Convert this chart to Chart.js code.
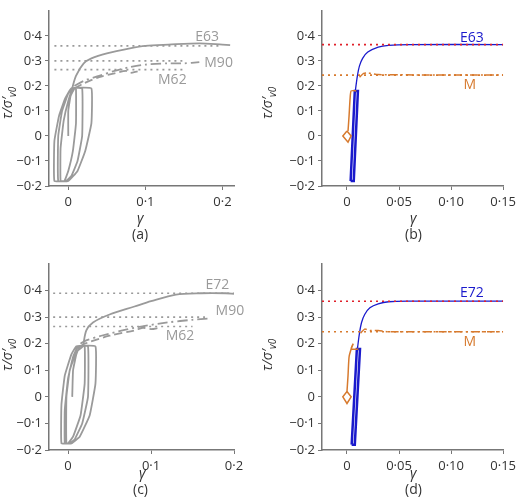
<!DOCTYPE html>
<html><head><meta charset="utf-8">
<script src="https://cdn.jsdelivr.net/npm/chart.js@4"></script>
<style>
body{margin:0;width:520px;height:502px;position:relative;background:#fff;font-family:"Open Sans",sans-serif;overflow:hidden}
canvas{position:absolute}
.t{position:absolute;color:#333;font-size:14px;white-space:nowrap}
.yl{transform:rotate(-90deg);transform-origin:center;font-style:italic}
</style></head><body>
<canvas id="ca" style="left:0;top:0" width="260" height="250"></canvas>
<canvas id="cb" style="left:260px;top:0" width="260" height="250"></canvas>
<canvas id="cc" style="left:0;top:252px" width="260" height="250"></canvas>
<canvas id="cd" style="left:260px;top:252px" width="260" height="250"></canvas>
<div class="t yl" style="left:-8px;top:92px">τ/σ′<sub style="font-size:10px">v0</sub></div>
<div class="t yl" style="left:252px;top:92px">τ/σ′<sub style="font-size:10px">v0</sub></div>
<div class="t yl" style="left:-8px;top:344px">τ/σ′<sub style="font-size:10px">v0</sub></div>
<div class="t yl" style="left:252px;top:344px">τ/σ′<sub style="font-size:10px">v0</sub></div>
<div class="t" style="left:137px;top:208px;font-style:italic">γ</div>
<div class="t" style="left:132px;top:224px">(a)</div>
<div class="t" style="left:410px;top:208px;font-style:italic">γ</div>
<div class="t" style="left:405px;top:224px">(b)</div>
<div class="t" style="left:139px;top:463px;font-style:italic">γ</div>
<div class="t" style="left:133px;top:479px">(c)</div>
<div class="t" style="left:410px;top:463px;font-style:italic">γ</div>
<div class="t" style="left:405px;top:479px">(d)</div>
<script>
// ---- data ----
const yTicks=[-0.2,-0.1,0,0.1,0.2,0.3,0.4];
const xTicksAC=[0,0.1,0.2];
const xTicksBD=[0,0.05,0.10,0.15];
const loopsA=[[0,0],[0,0.1],[0.003,0.16],[0.008,0.19],[0.01,0.19],[0.01,0.05],[0.006,-0.06],[0.0,-0.14],[-0.005,-0.18],[-0.01,-0.18],[-0.01,-0.05],[-0.006,0.06],[0.0,0.14],[0.006,0.19],[0.018,0.19],[0.018,0.0],[0.012,-0.1],[0.004,-0.16],[-0.003,-0.18],[-0.018,-0.18],[-0.018,-0.02],[-0.012,0.08],[-0.004,0.15],[0.004,0.19],[0.03,0.19],[0.03,0.05],[0.022,-0.06],[0.012,-0.14],[0.0,-0.18],[-0.013,-0.18],[-0.013,0.0],[-0.008,0.1],[0.0,0.17],[0.005,0.19]];
const e63=[[0.005,0.19],[0.01,0.24],[0.02,0.29],[0.03,0.31],[0.05,0.33],[0.08,0.35],[0.1,0.36],[0.13,0.365],[0.17,0.37],[0.2,0.365],[0.21,0.363]];
const m90a=[[0.008,0.2],[0.02,0.22],[0.04,0.24],[0.06,0.26],[0.08,0.275],[0.1,0.285],[0.13,0.29],[0.15,0.29],[0.17,0.295]];
const m62a=[[0.008,0.19],[0.02,0.21],[0.04,0.235],[0.06,0.25],[0.075,0.26],[0.08,0.252],[0.09,0.258]];
const loopsC=[[0.005,0],[0.006,0.1],[0.01,0.16],[0.014,0.19],[0.02,0.19],[0.02,0.05],[0.015,-0.07],[0.006,-0.15],[0.0,-0.175],[-0.004,-0.175],[-0.004,-0.05],[0.0,0.07],[0.006,0.15],[0.012,0.19],[0.024,0.19],[0.024,0.0],[0.017,-0.1],[0.008,-0.16],[0.002,-0.175],[-0.008,-0.175],[-0.008,-0.03],[-0.004,0.08],[0.004,0.16],[0.01,0.19],[0.033,0.19],[0.033,0.05],[0.026,-0.07],[0.014,-0.15],[0.004,-0.175],[-0.002,-0.175],[-0.002,0.0],[0.002,0.1],[0.01,0.17],[0.018,0.19]];
const e72=[[0.018,0.19],[0.022,0.25],[0.03,0.28],[0.05,0.31],[0.08,0.34],[0.1,0.36],[0.13,0.385],[0.16,0.39],[0.19,0.39],[0.2,0.388]];
const m90c=[[0.015,0.2],[0.02,0.21],[0.04,0.23],[0.08,0.26],[0.12,0.28],[0.15,0.29],[0.17,0.295]];
const m62c=[[0.015,0.19],[0.02,0.2],[0.05,0.23],[0.08,0.25],[0.09,0.26],[0.1,0.255],[0.11,0.26]];
const loopB=[[0.0035,-0.18],[0.0065,-0.18],[0.0105,0.18],[0.0075,0.18],[0.0035,-0.18]];
const blueB=[[0.008,0.18],[0.01,0.24],[0.012,0.28],[0.015,0.31],[0.02,0.335],[0.03,0.355],[0.04,0.362],[0.06,0.365],[0.15,0.365]];
const diaB=[[0.0,0.02],[-0.004,0],[0.001,-0.025],[0.004,0],[0.0,0.02]];
const orangeB=[[0.001,0.02],[0.002,0.08],[0.003,0.15],[0.004,0.18],[0.009,0.18]];
const mB=[[0.012,0.235],[0.016,0.25],[0.02,0.252],[0.03,0.245],[0.15,0.243]];
const loopD=[[0.0045,-0.18],[0.0075,-0.18],[0.0125,0.18],[0.0095,0.18],[0.0045,-0.18]];
const blueD=[[0.01,0.18],[0.012,0.24],[0.014,0.28],[0.017,0.31],[0.022,0.335],[0.03,0.35],[0.04,0.358],[0.06,0.36],[0.15,0.36]];
const diaD=[[0.0,0.02],[-0.004,0],[0.0,-0.025],[0.004,0],[0.0,0.02]];
const orangeD=[[0.0,0.02],[0.001,0.08],[0.002,0.15],[0.004,0.18],[0.006,0.2],[0.004,0.18],[0.011,0.18]];
const mD=[[0.013,0.24],[0.017,0.255],[0.022,0.25],[0.03,0.25],[0.04,0.245],[0.15,0.245]];
// ---- helpers ----
const G='#9a9a9a',B='#1a1acc',O='#d77a2e';
const pts=a=>a.map(p=>({x:p[0],y:p[1]}));
const fmt=v=>{let s=(Math.abs(v)<1e-9)?'0':String(+v.toFixed(2));return s.replace('-','−').replace('.','·');};
const txt={id:'txt',afterDatasetsDraw(c,a,o){const ctx=c.ctx;ctx.save();ctx.font='14px "Open Sans"';ctx.textAlign='center';ctx.textBaseline='middle';(o.items||[]).forEach(t=>{ctx.fillStyle=t.c;ctx.fillText(t.s,c.scales.x.getPixelForValue(t.x),c.scales.y.getPixelForValue(t.y));});ctx.restore();}};
function ds(d,color,w,dash,ten){return {data:pts(d),borderColor:color,borderWidth:w,borderDash:dash||[],showLine:true,pointRadius:0,fill:false,tension:ten===undefined?0.3:ten};}
function hl(y,x0,x1,color,dash){return {data:[{x:x0,y:y},{x:x1,y:y}],borderColor:color,borderWidth:1.6,borderDash:dash,showLine:true,pointRadius:0,tension:0};}
function make(id,sets,xmin,xmax,xt,pad,bottom,left,items){
  const H=250;
  new Chart(document.getElementById(id),{type:'scatter',data:{datasets:sets},plugins:[txt],
  options:{responsive:false,animation:false,layout:{padding:{top:pad.t,right:pad.r,left:0,bottom:0}},
   plugins:{legend:{display:false},tooltip:{enabled:false},txt:{items}},
   scales:{
    x:{type:'linear',min:xmin,max:xmax,afterBuildTicks:s=>{s.ticks=xt.map(v=>({value:v}));},
       afterFit:s=>{s.height=H-bottom;},
       ticks:{callback:v=>xt===xTicksBD&&v>0?v.toFixed(2).replace('.','·'):fmt(v),color:'#333',font:{size:13,family:'"Open Sans"'},padding:4},
       grid:{drawOnChartArea:false,tickLength:4,color:'#777'},border:{color:'#777',width:1.5}},
    y:{type:'linear',min:-0.2,max:0.5,afterBuildTicks:s=>{s.ticks=yTicks.map(v=>({value:v}));},
       afterFit:s=>{s.width=left;},
       ticks:{callback:v=>fmt(v),color:'#333',font:{size:13,family:'"Open Sans"'}},
       grid:{drawOnChartArea:false,tickLength:4,color:'#777'},border:{color:'#777',width:1.5}}
   }}});
}
make('ca',[hl(0.36,-0.018,0.2,G,[2,4]),hl(0.30,-0.018,0.148,G,[2,4]),hl(0.265,-0.018,0.15,G,[2,4]),
  ds(loopsA,G,1.8,[],0.1),ds(e63,G,1.8),ds(m90a,G,1.8,[10,4,2,4]),ds(m62a,G,1.8,[8,4])],
  -0.025,0.215,xTicksAC,{t:1,r:26},186,49,
  [{x:0.18,y:0.395,s:'E63',c:G},{x:0.195,y:0.292,s:'M90',c:G},{x:0.135,y:0.225,s:'M62',c:G}]);
make('cb',[hl(0.365,-0.024,0.15,'#e0202a',[2,4]),hl(0.243,-0.024,0.15,O,[2,4]),
  ds(diaB,O,1.5,[],0),ds(orangeB,O,1.5,[],0.2),ds(mB,O,1.5,[8,3,2,3],0.2),ds(loopB,B,2.5,[],0),ds(blueB,B,1.3)],
  -0.024,0.15,xTicksBD,{t:1,r:12},186,62,
  [{x:0.12,y:0.39,s:'E63',c:B},{x:0.118,y:0.205,s:'M',c:O}]);
make('cc',[hl(0.39,-0.018,0.2,G,[2,4]),hl(0.30,-0.018,0.165,G,[2,4]),hl(0.265,-0.018,0.15,G,[2,4]),
  ds(loopsC,G,1.8,[],0.1),ds(e72,G,1.8),ds(m90c,G,1.8,[10,4,2,4]),ds(m62c,G,1.8,[8,4])],
  -0.023,0.2,xTicksAC,{t:12,r:26},198,49,
  [{x:0.18,y:0.42,s:'E72',c:G},{x:0.195,y:0.322,s:'M90',c:G},{x:0.135,y:0.228,s:'M62',c:G}]);
make('cd',[hl(0.36,-0.024,0.15,'#e0202a',[2,4]),hl(0.245,-0.024,0.15,O,[2,4]),
  ds(diaD,O,1.5,[],0),ds(orangeD,O,1.5,[],0.2),ds(mD,O,1.5,[8,3,2,3],0.2),ds(loopD,B,2.5,[],0),ds(blueD,B,1.3)],
  -0.024,0.15,xTicksBD,{t:12,r:12},198,62,
  [{x:0.12,y:0.39,s:'E72',c:B},{x:0.118,y:0.205,s:'M',c:O}]);
</script></body></html>
